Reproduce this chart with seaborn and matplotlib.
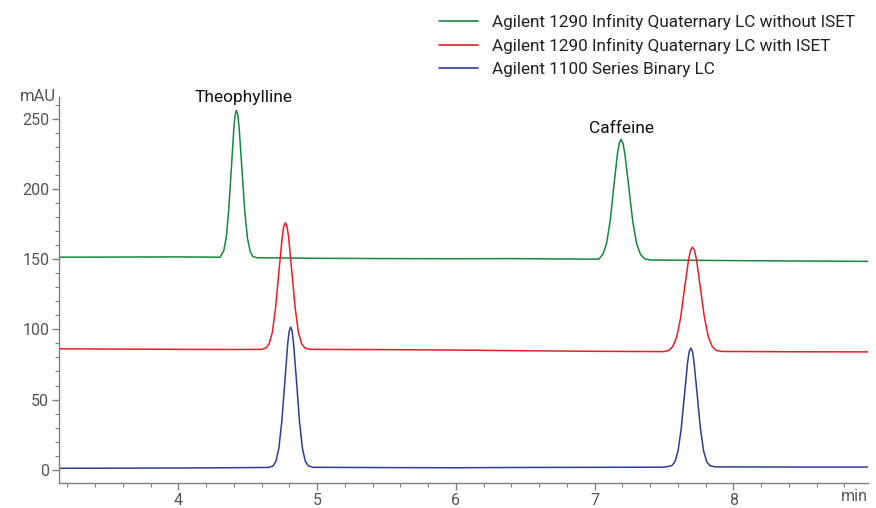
import numpy as np
import pandas as pd
import matplotlib
matplotlib.use("Agg")
import matplotlib.pyplot as plt
import seaborn as sns
from matplotlib.ticker import MultipleLocator

# ---- data (time in min, signal in mAU) ----
labels = ["Agilent 1290 Infinity Quaternary LC without ISET",
          "Agilent 1290 Infinity Quaternary LC with ISET",
          "Agilent 1100 Series Binary LC"]

t_green = [3.14, 3.6, 4.0, 4.30, 4.327, 4.345, 4.363, 4.382, 4.400, 4.409, 4.418,
           4.428, 4.438, 4.458, 4.478, 4.498, 4.518, 4.538, 4.57, 5.0, 5.5, 6.0,
           6.4, 6.8, 7.03, 7.06, 7.086, 7.112, 7.138, 7.164, 7.177, 7.19, 7.204,
           7.218, 7.246, 7.274, 7.302, 7.33, 7.36, 7.40, 7.8, 8.4, 8.97]
y_green = [151.6, 151.7, 151.8, 151.6, 156.1, 165.7, 185.6, 215.2, 244.1, 253.2, 256.4,
           253.2, 244.0, 214.6, 185.0, 165.0, 155.5, 152.0, 151.2, 150.8, 150.6, 150.5,
           150.6, 150.3, 150.2, 153.8, 161.5, 177.8, 201.9, 225.4, 232.9, 235.7, 232.9,
           225.2, 201.5, 177.5, 161.3, 153.6, 150.5, 149.6, 149.3, 148.9, 148.6]

t_red = [3.14, 3.6, 4.0, 4.4, 4.60, 4.63, 4.654, 4.677, 4.700, 4.724, 4.748, 4.759,
         4.771, 4.783, 4.795, 4.818, 4.842, 4.865, 4.889, 4.912, 4.95, 5.5, 6.0,
         6.5, 7.0, 7.50, 7.534, 7.562, 7.591, 7.620, 7.648, 7.677, 7.691, 7.705,
         7.719, 7.734, 7.762, 7.791, 7.82, 7.848, 7.876, 7.92, 8.4, 8.97]
y_red = [86.2, 86.0, 85.8, 85.7, 85.8, 86.7, 89.7, 97.9, 115.1, 140.6, 165.5, 173.4,
         176.2, 173.4, 165.5, 140.6, 115.1, 97.9, 89.7, 86.7, 85.8, 85.6, 85.3,
         84.8, 84.4, 84.2, 85.0, 87.7, 94.4, 108.6, 129.6, 150.0, 156.5, 158.8,
         156.5, 150.0, 129.6, 108.6, 94.4, 87.7, 85.0, 84.3, 84.1, 84.0]

t_blue = [3.14, 3.6, 4.2, 4.65, 4.682, 4.703, 4.724, 4.745, 4.767, 4.788, 4.798,
          4.809, 4.820, 4.830, 4.852, 4.873, 4.894, 4.915, 4.937, 4.97, 5.5, 6.0,
          6.5, 7.0, 7.50, 7.555, 7.578, 7.601, 7.624, 7.647, 7.67, 7.681, 7.693,
          7.705, 7.716, 7.739, 7.762, 7.785, 7.808, 7.831, 7.87, 8.4, 8.97]
y_blue = [0.9, 1.0, 1.2, 1.5, 2.6, 5.9, 15.0, 34.1, 62.3, 89.9, 98.6,
          101.7, 98.6, 89.9, 62.3, 34.1, 15.0, 5.9, 2.6, 1.6, 1.4, 1.3,
          1.5, 1.6, 1.7, 2.7, 5.5, 13.3, 29.4, 53.3, 76.7, 84.1, 86.7,
          84.1, 76.7, 53.3, 29.4, 13.3, 5.5, 2.7, 1.9, 1.8, 1.8]

peak_names = ["Theophylline", "Caffeine"]
peak_label_x = [4.47, 7.19]
peak_label_y = [265.5, 243.5]

colors = ["#14893c", "#ec1c24", "#2a3d9c"]

sns.set_style("white")
plt.rcParams['font.family'] = ['Roboto', 'DejaVu Sans']

fig = plt.figure(figsize=(8.76, 5.08), dpi=100)
ax = fig.add_axes([0.0674, 0.0492, 0.9235, 0.760])

for t, y, lab, c in zip([t_green, t_red, t_blue], [y_green, y_red, y_blue], labels, colors):
    df = pd.DataFrame({"time": t, "signal": y})
    sns.lineplot(data=df, x="time", y="signal", color=c, lw=1.1, label=lab,
                 estimator=None, sort=False, ax=ax)

ax.set_xlim(3.14, 8.97)
ax.set_ylim(-9.6, 266)
ax.set_xlabel("")
ax.set_ylabel("")

ax.xaxis.set_major_locator(MultipleLocator(1))
ax.xaxis.set_minor_locator(MultipleLocator(0.2))
ax.yaxis.set_major_locator(MultipleLocator(50))
ax.yaxis.set_minor_locator(MultipleLocator(10))
ax.set_xticks([4, 5, 6, 7, 8])

for s in ["top", "right"]:
    ax.spines[s].set_visible(False)
for s in ["left", "bottom"]:
    ax.spines[s].set_color("#808080")
    ax.spines[s].set_linewidth(1.0)

ax.tick_params(which="major", direction="out", length=5, width=1, color="#808080",
               labelcolor="#555555", labelsize=11.5, pad=2, bottom=True, left=True)
ax.tick_params(which="minor", direction="out", length=3, width=0.8, color="#808080",
               bottom=True, left=True)

ax.text(-0.004, 1.0, "mAU", transform=ax.transAxes, ha="right", va="center",
        color="#555555", fontsize=12)
ax.text(1.0, -0.036, "min", transform=ax.transAxes, ha="right", va="center",
        color="#555555", fontsize=11.5)

for name, px, py in zip(peak_names, peak_label_x, peak_label_y):
    ax.text(px, py, name, ha="center", va="center", fontsize=12.5, color="#111111")

leg = ax.legend(loc="upper left", bbox_to_anchor=(0.487, 0.996), bbox_transform=fig.transFigure,
                frameon=False, fontsize=12.3, handlelength=2.3, handletextpad=0.8,
                labelspacing=0.47, borderaxespad=0.3)
for line in leg.get_lines():
    line.set_linewidth(1.2)
for txt in leg.get_texts():
    txt.set_color("#222222")

fig.savefig("out.png", dpi=100)
